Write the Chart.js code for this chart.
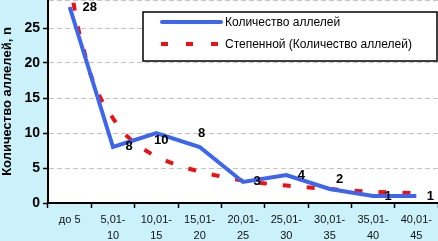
<!DOCTYPE html>
<html>
<head>
<meta charset="utf-8">
<script src="https://cdn.jsdelivr.net/npm/chart.js@4/dist/chart.umd.min.js"></script>
<style>
html, body { margin: 0; padding: 0; background: #cbf2fb; }
canvas { display: block; }
</style>
</head>
<body>
<canvas id="chart" width="438" height="241"></canvas>
<script>
// data
var categories = [["до 5"], ["5,01-", "10"], ["10,01-", "15"], ["15,01-", "20"], ["20,01-", "25"],
                  ["25,01-", "30"], ["30,01-", "35"], ["35,01-", "40"], ["40,01-", "45"]];
var alleles = [28, 8, 10, 8, 3, 4, 2, 1, 1];
// power trendline (x in category numbers, 1 = "до 5")
var trendX = [1, 1.17, 1.31, 1.45, 1.68, 2, 2.35, 2.81, 3.36, 4, 5, 6, 7, 8, 9];
var trendY = [32, 25.7, 22.3, 19, 15.4, 12.1, 9.4, 7.3, 5.7, 4.5, 3.2, 2.5, 2.0, 1.6, 1.4];
var yTicks = [0, 5, 10, 15, 20, 25, 29];
var seriesNames = ["Количество аллелей", "Степенной (Количество аллелей)"];
var yTitle = "Количество аллелей, n";

var BLUE = "#3d66ee";
var RED = "#ee1111";

// where each value label sits, relative to its point
var labelDx = [20, 16, 5, 2, 14, 15, 10, 15, 14];
var labelDy = [0, -1, 7, -14, -1, 0, -10, 0, 0];

var whiteArea = {
    id: "whiteArea",
    beforeDraw: function(chart){
        var a = chart.chartArea, ctx = chart.ctx;
        ctx.save();
        ctx.fillStyle = "#fff";
        ctx.fillRect(a.left, a.top, a.right - a.left, a.bottom - a.top);
        ctx.restore();
    }
};

var valueLabels = {
    id: "valueLabels",
    afterDatasetsDraw: function(chart){
        var ctx = chart.ctx;
        var meta = chart.getDatasetMeta(0);
        ctx.save();
        ctx.font = "bold 13px Arial, 'Liberation Sans'";
        ctx.fillStyle = "#000";
        ctx.textAlign = "center";
        ctx.textBaseline = "middle";
        meta.data.forEach(function(p, i){
            ctx.fillText(String(alleles[i]), p.x + labelDx[i], p.y + labelDy[i]);
        });
        ctx.restore();
    }
};

var boxLegend = {
    id: "boxLegend",
    afterDraw: function(chart){
        var ctx = chart.ctx;
        ctx.save();
        ctx.fillStyle = "#fff";
        ctx.fillRect(143, 12, 294, 49);
        ctx.strokeStyle = "#000";
        ctx.lineWidth = 1.5;
        ctx.strokeRect(143, 12, 294, 49);

        ctx.lineWidth = 4;
        ctx.lineCap = "round";
        ctx.strokeStyle = BLUE;
        ctx.beginPath(); ctx.moveTo(162, 22); ctx.lineTo(221, 22); ctx.stroke();

        ctx.lineCap = "butt";
        ctx.strokeStyle = RED;
        ctx.setLineDash([7, 18]);
        ctx.beginPath(); ctx.moveTo(161, 44); ctx.lineTo(222, 44); ctx.stroke();
        ctx.setLineDash([]);

        ctx.font = "12px Arial, 'Liberation Sans'";
        ctx.fillStyle = "#000";
        ctx.textBaseline = "middle";
        ctx.fillText(seriesNames[0], 225, 23);
        ctx.fillText(seriesNames[1], 225, 45);
        ctx.restore();
    }
};

new Chart(document.getElementById("chart"), {
    type: "line",
    data: {
        labels: categories,
        datasets: [
            {
                label: seriesNames[0],
                data: alleles,
                borderColor: BLUE,
                borderWidth: 4,
                pointRadius: 0,
                tension: 0,
                order: 1
            },
            {
                label: seriesNames[1],
                data: trendX.map(function(x, i){ return { x: x, y: trendY[i] }; }),
                xAxisID: "xt",
                borderColor: RED,
                borderWidth: 4,
                borderDash: [8, 16],
                pointRadius: 0,
                cubicInterpolationMode: "monotone",
                order: 2
            }
        ]
    },
    options: {
        responsive: false,
        animation: false,
        devicePixelRatio: 1,
        layout: { padding: 0 },
        plugins: {
            legend: { display: false },
            tooltip: { enabled: false }
        },
        scales: {
            x: {
                offset: true,
                grid: { offset: true, drawOnChartArea: false, tickLength: 5, tickColor: "#000", tickWidth: 1.5 },
                border: { color: "#000", width: 2 },
                ticks: {
                    color: "#111",
                    padding: 4,
                    maxRotation: 0,
                    autoSkip: false,
                    font: { family: "Arial, 'Liberation Sans'", size: 11, lineHeight: 1.45 }
                },
                afterFit: function(scale){
                    scale.height = 38;
                    scale.paddingLeft = 0;
                    scale.paddingRight = 0;
                }
            },
            xt: {
                type: "linear",
                display: false,
                min: 0.5,
                max: 9.5
            },
            y: {
                min: 0,
                max: 29,
                afterBuildTicks: function(scale){
                    scale.ticks = yTicks.map(function(v){ return { value: v }; });
                },
                grid: {
                    color: "#c4c4c4",
                    tickLength: 5,
                    tickWidth: 1.5,
                    tickColor: function(c){ return c.tick && c.tick.value % 5 === 0 ? "#000" : "rgba(0,0,0,0)"; }
                },
                border: { color: "#000", width: 2, dash: [5, 3] },
                ticks: {
                    color: "#000",
                    padding: 3,
                    font: { family: "Arial, 'Liberation Sans'", size: 14, weight: "bold" },
                    callback: function(v){ return v % 5 === 0 ? v : ""; }
                },
                title: {
                    display: true,
                    text: yTitle,
                    color: "#000",
                    padding: 0,
                    font: { family: "Arial, 'Liberation Sans'", size: 13, weight: "bold" }
                },
                afterFit: function(scale){
                    scale.width = 48;
                    scale.paddingTop = 0;
                    scale.paddingBottom = 0;
                }
            }
        }
    },
    plugins: [whiteArea, valueLabels, boxLegend]
});
</script>
</body>
</html>
